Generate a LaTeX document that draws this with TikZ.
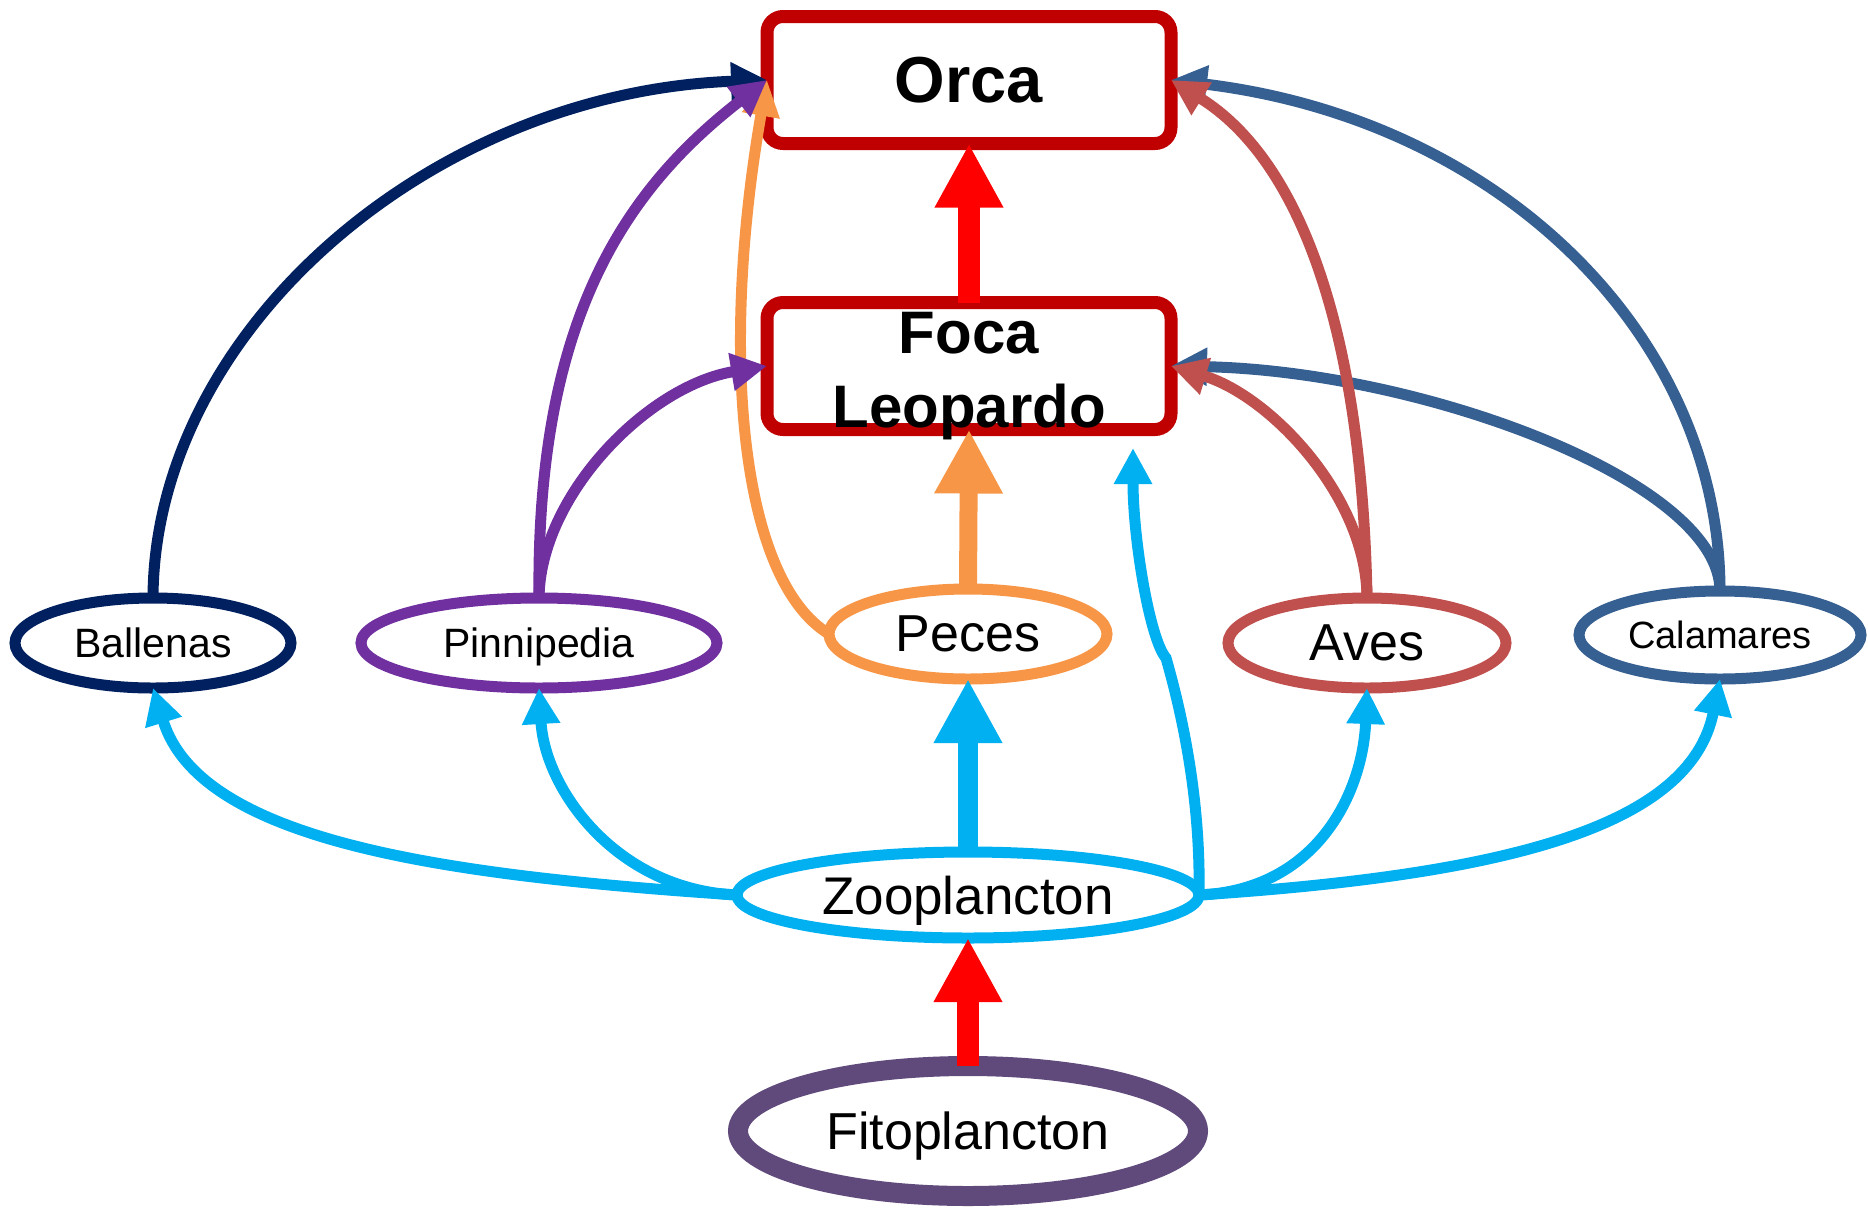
\documentclass[tikz,border=0pt]{standalone}
\usepackage{fontspec}
\setmainfont{Liberation Sans}
\usetikzlibrary{arrows.meta,shapes.geometric}
\definecolor{navyc}{HTML}{002060}
\definecolor{purplec}{HTML}{7030A0}
\definecolor{orangec}{HTML}{F79646}
\definecolor{avesc}{HTML}{C0504D}
\definecolor{calc}{HTML}{376092}
\definecolor{cyanc}{HTML}{00B0F0}
\definecolor{fitoc}{HTML}{604A7B}
\definecolor{boxred}{HTML}{C00000}
\definecolor{redc}{HTML}{FF0000}
\begin{document}
\begin{tikzpicture}[x=1pt,y=-1pt,
  box/.style={draw=boxred, line width=13pt, rounded corners=16pt, minimum width=404pt,
    minimum height=127pt, inner sep=0pt, outer sep=0pt, fill=white, align=center},
  oval/.style={ellipse, draw, line width=11pt, inner sep=0pt, outer sep=0pt, fill=white, text depth=0pt},
  thinedge/.style={line width=11pt, -{Triangle[length=36pt,width=36pt]}},
  bigarrow/.style={-{Triangle[length=64pt,width=64pt]}}]
\useasboundingbox (0,0) rectangle (1868,1208);
% boxes
\node[box, font=\fontsize{65}{78}\selectfont\bfseries] (orca) at (969,80) {Orca};
\node[box, font=\fontsize{60}{74}\selectfont\bfseries] (foca) at (969,366) {\rule{0pt}{48pt}\smash{Foca}\\\smash{Leopardo}};
% ellipses
\node[oval, draw=navyc, minimum width=276pt, minimum height=90pt, font=\fontsize{41}{49}\selectfont] (ball) at (153,643) {Ballenas};
\node[oval, draw=purplec, minimum width=356pt, minimum height=90pt, font=\fontsize{41}{49}\selectfont] (pinn) at (539,643) {Pinnipedia};
\node[oval, draw=orangec, minimum width=278pt, minimum height=90pt, font=\fontsize{52}{62}\selectfont] (peces) at (968,634) {Peces};
\node[oval, draw=avesc, minimum width=278pt, minimum height=90pt, font=\fontsize{52}{62}\selectfont] (aves) at (1367,643) {Aves};
\node[oval, draw=calc, minimum width=282pt, minimum height=88pt, font=\fontsize{38}{46}\selectfont] (cal) at (1720,635) {Calamares};
\node[oval, draw=cyanc, minimum width=462pt, minimum height=86pt, font=\fontsize{53}{64}\selectfont] (zoo) at (968,895) {Zooplancton};
\node[oval, draw=fitoc, line width=20pt, minimum width=460pt, minimum height=130pt, font=\fontsize{52}{62}\selectfont] (fito) at (968,1131) {Fitoplancton};
\coordinate (zk) at (1166,658);
\coordinate (zt) at (1133,448);
% thin edges into Orca / Foca
\draw[thinedge, navyc] (ball.north) .. controls (154,330) and (432,92) .. (orca.west);
\draw[thinedge, orangec] (peces.west) .. controls (739,579) and (720,350) .. (orca.west);
\draw[thinedge, purplec] (pinn.north) .. controls (536,320) and (625,190) .. (orca.west);
\draw[thinedge, purplec] (pinn.north) .. controls (540,496) and (647,386) .. (foca.west);
\draw[thinedge, calc] (cal.north) .. controls (1720,336) and (1501,120) .. (orca.east);
\draw[thinedge, calc] (cal.north) .. controls (1720,481) and (1421,371) .. (foca.east);
\draw[thinedge, avesc] (aves.north) .. controls (1362,330) and (1300,160) .. (orca.east);
\draw[thinedge, avesc] (aves.north) .. controls (1367,498) and (1271,396) .. (foca.east);
% zooplancton edges
\draw[thinedge, cyanc] (zoo.west) .. controls (437,875) and (200,840) .. (ball.south);
\draw[thinedge, cyanc] (zoo.west) .. controls (617,890) and (545,790) .. (pinn.south);
\draw[thinedge, cyanc] (zoo.east) .. controls (1319,890) and (1363,790) .. (aves.south);
\draw[thinedge, cyanc] (zoo.east) .. controls (1499,875) and (1690,829) .. (cal.south);
\draw[thinedge, cyanc] (zoo.east) .. controls (1201,790) and (1178,700) .. (zk) .. controls (1150,640) and (1133,540) .. (zt);
% thick arrows
\draw[bigarrow, redc, line width=22pt] (fito.north) -- (zoo.south);
\draw[bigarrow, cyanc, line width=20pt] (zoo.north) -- (peces.south);
\draw[bigarrow, orangec, line width=18pt] (peces.north) -- (foca.south);
\draw[bigarrow, redc, line width=22pt] (foca.north) -- (orca.south);
\end{tikzpicture}
\end{document}
